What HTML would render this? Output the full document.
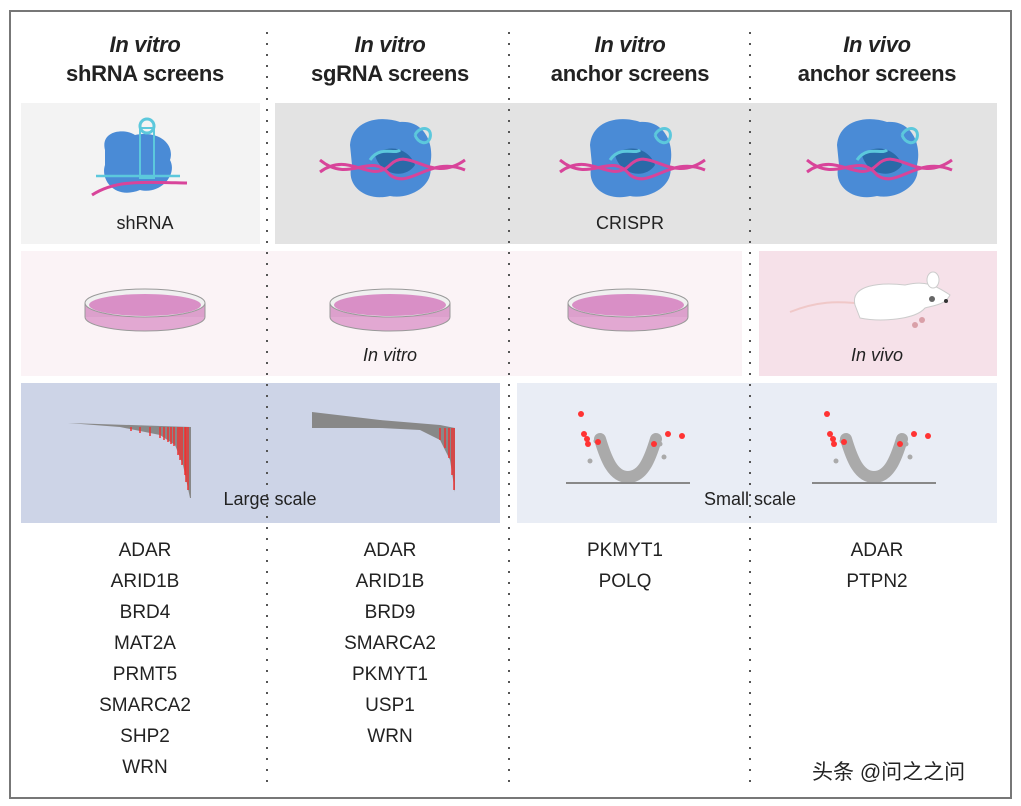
<!DOCTYPE html>
<html><head><meta charset="utf-8"><style>
body{margin:0;width:1021px;height:806px;background:#fff;position:relative;overflow:hidden;font-family:"Liberation Sans",Arial,sans-serif;color:#222}
.a{position:absolute}
.h{position:absolute;width:240px;text-align:center;font-weight:bold;font-size:22px;line-height:29px;top:30px;letter-spacing:-0.3px}
.g{position:absolute;width:240px;text-align:center;font-size:19px;line-height:31px;top:535px}
.dot{position:absolute;top:32px;width:2px;height:750px;background:repeating-linear-gradient(to bottom,#555 0,#555 2px,transparent 2px,transparent 11px)}
.lab{position:absolute;font-size:18px;text-align:center}
</style></head><body>
<div class="a" style="left:9px;top:10px;width:999px;height:785px;border:2px solid #777"></div>
<div class="a" style="left:21px;top:103px;width:239px;height:141px;background:#f3f3f3"></div>
<div class="a" style="left:275px;top:103px;width:722px;height:141px;background:#e3e3e3"></div>
<div class="a" style="left:21px;top:251px;width:721px;height:125px;background:#fbf3f6"></div>
<div class="a" style="left:759px;top:251px;width:238px;height:125px;background:#f6e1e9"></div>
<div class="a" style="left:21px;top:383px;width:479px;height:140px;background:#cdd4e7"></div>
<div class="a" style="left:517px;top:383px;width:480px;height:140px;background:#e9edf5"></div>
<div class="dot" style="left:266px"></div>
<div class="dot" style="left:508px"></div>
<div class="dot" style="left:749px"></div>

<div class="h" style="left:25px"><i>In vitro</i><br>shRNA screens</div>
<div class="h" style="left:270px"><i>In vitro</i><br>sgRNA screens</div>
<div class="h" style="left:510px"><i>In vitro</i><br>anchor screens</div>
<div class="h" style="left:757px"><i>In vivo</i><br>anchor screens</div>

<svg class="a" style="left:0;top:0" width="1021" height="806">
<defs>
<g id="cas">
<path d="M-40,-15 C-38,-40 -10,-45 10,-38 C35,-40 45,-15 40,5 C45,25 20,40 0,36 C-25,42 -45,25 -38,5 Z" fill="#4a8bd6"/>
<path d="M-15,-5 C0,-18 20,-10 25,5 C15,20 -10,15 -15,-5Z" fill="#2a6aa8"/>
<path d="M-70,12 C-40,-10 -20,25 0,5 C20,-15 40,25 75,0" stroke="#d8449a" stroke-width="3" fill="none"/>
<path d="M-70,0 C-40,25 -20,-10 0,15 C20,30 40,-5 75,10" stroke="#d8449a" stroke-width="3" fill="none"/>
<path d="M-20,0 C-10,-15 5,-5 10,-10 M25,-25 c5,-10 18,-8 15,3 c-3,8 -12,5 -15,-3" stroke="#5cc8dc" stroke-width="3" fill="none"/>
</g>
<g id="dish">
<ellipse cx="0" cy="12" rx="60" ry="14" fill="#e2a8d2" stroke="#999"/>
<rect x="-60" y="-2" width="120" height="14" fill="#dca0cc"/>
<ellipse cx="0" cy="-2" rx="60" ry="14" fill="#f0f0f0" stroke="#999"/>
<ellipse cx="0" cy="0" rx="56" ry="11" fill="#d98fc6"/>
<line x1="-60" y1="-2" x2="-60" y2="12" stroke="#999"/><line x1="60" y1="-2" x2="60" y2="12" stroke="#999"/>
</g>
<g id="vol">
<path d="M-28,-30 C-22,-10 -15,8 0,8 C15,8 22,-10 28,-30" stroke="#aaa" stroke-width="12" fill="none" stroke-linecap="round"/>
<g fill="#aaa"><circle cx="-38" cy="-8" r="2.5"/><circle cx="-32" cy="-28" r="2.5"/><circle cx="36" cy="-12" r="2.5"/><circle cx="32" cy="-25" r="2.5"/></g>
<g fill="#f33"><circle cx="-47" cy="-55" r="3"/><circle cx="-44" cy="-35" r="3"/><circle cx="-41" cy="-30" r="3"/><circle cx="-40" cy="-25" r="3"/><circle cx="-30" cy="-27" r="3"/><circle cx="26" cy="-25" r="3"/><circle cx="40" cy="-35" r="3"/><circle cx="54" cy="-33" r="3"/></g>
<rect x="-62" y="13" width="124" height="2" fill="#888"/>
</g>
</defs>
<!-- shRNA -->
<path d="M105,150 C100,130 125,128 135,135 C160,130 175,145 170,160 C178,175 160,195 140,190 C115,200 100,180 105,165 Z" fill="#4a8bd6"/>
<rect x="140" y="128" width="14" height="50" fill="none" stroke="#5cc8dc" stroke-width="2"/>
<circle cx="147" cy="126" r="7" fill="none" stroke="#5cc8dc" stroke-width="3"/>
<line x1="96" y1="176" x2="180" y2="176" stroke="#5cc8dc" stroke-width="2.5"/>
<path d="M92,195 C115,180 140,182 187,183" stroke="#d8449a" stroke-width="3" fill="none"/>
<use href="#cas" x="390" y="160"/>
<use href="#cas" x="630" y="160"/>
<use href="#cas" x="877" y="160"/>
<use href="#dish" x="145" y="305"/>
<use href="#dish" x="390" y="305"/>
<use href="#dish" x="628" y="305"/>
<!-- mouse -->
<path d="M790,312 C820,300 840,302 855,303" stroke="#f0c8c8" stroke-width="2" fill="none"/>
<path d="M855,305 C850,285 880,282 905,285 C925,280 935,285 950,295 C945,305 935,305 925,308 C915,320 880,322 860,318 Z" fill="#fff" stroke="#ccc"/>
<ellipse cx="933" cy="280" rx="6" ry="8" fill="#fff" stroke="#ccc"/>
<circle cx="932" cy="299" r="3" fill="#666"/><circle cx="946" cy="301" r="2" fill="#333"/>
<circle cx="915" cy="325" r="3" fill="#d9a0a8"/><circle cx="922" cy="320" r="3" fill="#d9a0a8"/>
<!-- waterfall 1 -->
<path d="M68,423 L120,427 L160,435 L175,445 L183,465 L190,498 L191,498 L191,427 Z" fill="#888"/>
<g stroke="#e33" stroke-width="1.5">
<line x1="150" y1="427" x2="150" y2="436"/><line x1="160" y1="427" x2="160" y2="438"/><line x1="168" y1="427" x2="168" y2="442"/><line x1="174" y1="427" x2="174" y2="446"/><line x1="178" y1="427" x2="178" y2="455"/><line x1="182" y1="427" x2="182" y2="465"/><line x1="185" y1="427" x2="185" y2="475"/><line x1="188" y1="427" x2="188" y2="490"/><line x1="131" y1="427" x2="131" y2="431"/><line x1="140" y1="427" x2="140" y2="433"/><line x1="164" y1="427" x2="164" y2="440"/><line x1="171" y1="427" x2="171" y2="444"/><line x1="180" y1="427" x2="180" y2="460"/><line x1="186" y1="427" x2="186" y2="482"/>
</g>
<path d="M312,412 L312,428 L380,428 L420,430 L440,440 L450,460 L455,492 L455,428 L440,425 L380,420 Z" fill="#888"/>
<g stroke="#e33" stroke-width="1.5"><line x1="445" y1="428" x2="445" y2="448"/><line x1="449" y1="428" x2="449" y2="458"/><line x1="452" y1="428" x2="452" y2="475"/><line x1="454" y1="428" x2="454" y2="490"/><line x1="440" y1="428" x2="440" y2="440"/></g>
<use href="#vol" x="628" y="469"/>
<use href="#vol" x="874" y="469"/>
</svg>

<div class="lab" style="left:85px;top:213px;width:120px">shRNA</div>
<div class="lab" style="left:570px;top:213px;width:120px">CRISPR</div>
<div class="lab" style="left:330px;top:345px;width:120px;font-style:italic">In vitro</div>
<div class="lab" style="left:817px;top:345px;width:120px;font-style:italic">In vivo</div>
<div class="lab" style="left:210px;top:489px;width:120px">Large scale</div>
<div class="lab" style="left:690px;top:489px;width:120px">Small scale</div>

<div class="g" style="left:25px">ADAR<br>ARID1B<br>BRD4<br>MAT2A<br>PRMT5<br>SMARCA2<br>SHP2<br>WRN</div>
<div class="g" style="left:270px">ADAR<br>ARID1B<br>BRD9<br>SMARCA2<br>PKMYT1<br>USP1<br>WRN</div>
<div class="g" style="left:505px">PKMYT1<br>POLQ</div>
<div class="g" style="left:757px">ADAR<br>PTPN2</div>
<div class="a" style="left:812px;top:756px;font-size:21px;font-family:'Liberation Sans','Noto Sans CJK SC',sans-serif;color:#222">头条 @问之之问</div>
</body></html>
